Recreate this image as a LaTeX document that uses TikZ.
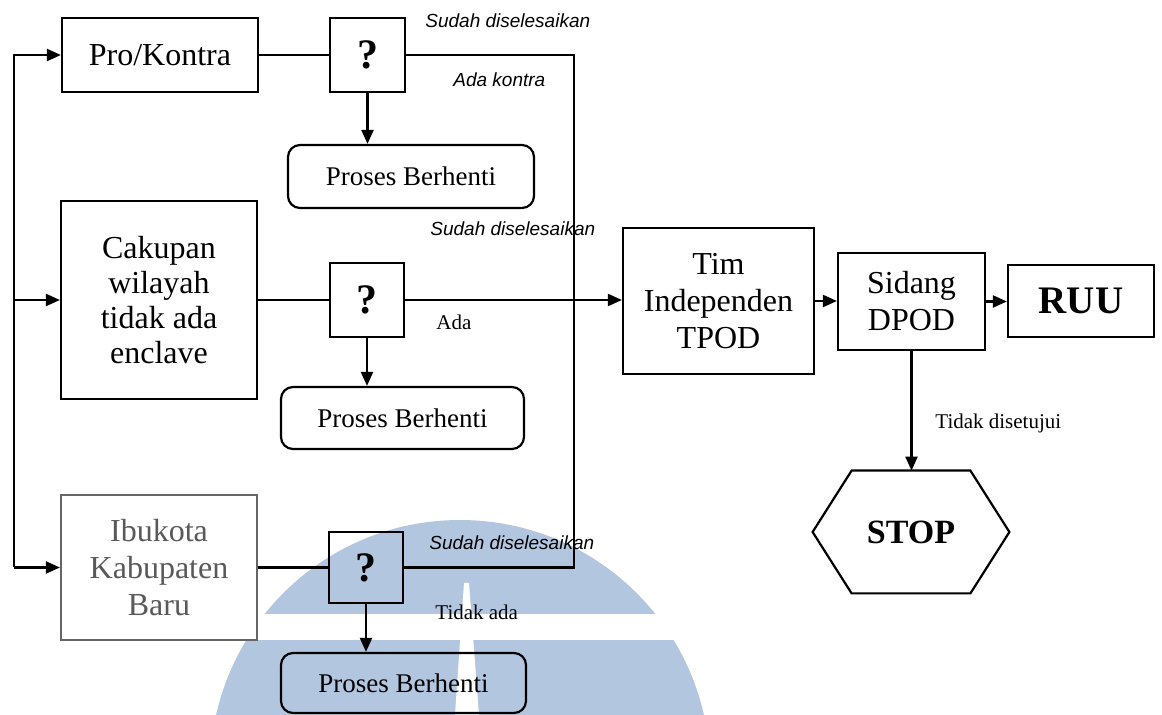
\documentclass[tikz,border=0pt]{standalone}
\usepackage{fontspec}
\setmainfont{Liberation Serif}
\newfontfamily\labelsans{Liberation Sans}
\usetikzlibrary{arrows.meta}
\definecolor{wmblue}{RGB}{178,198,224}
\begin{document}
\begin{tikzpicture}[x=0.5pt,y=-0.5pt,
  box/.style={draw, line width=1.1pt, inner sep=0pt, align=center,
    font=\fontsize{16}{18.5}\selectfont},
  qbox/.style={draw, line width=1.1pt, inner sep=0pt, minimum width=37pt,
    minimum height=37pt, font=\fontsize{21}{24}\selectfont\bfseries},
  pbox/.style={draw, line width=1.1pt, rounded corners=6pt, inner sep=0pt,
    font=\fontsize{13.5}{16}\selectfont},
  link/.style={line width=1.1pt},
  arr/.style={link, -{Triangle[length=7pt,width=6pt]}},
  note/.style={font=\labelsans\itshape\fontsize{9.5}{11}\selectfont, anchor=west, inner sep=0pt},
  smalllabel/.style={font=\fontsize{10.5}{12}\selectfont, anchor=west, inner sep=0pt}]
\useasboundingbox (0,0) rectangle (1162,715);
\fill[white] (0,0) rectangle (1162,715);
% watermark
\begin{scope}
\clip (0,0) rectangle (1162,715);
\fill[wmblue] (460,770) circle[radius=250];
\fill[white] (0,614) rectangle (1162,640);
\fill[white] (464,583) -- (469,583) -- (479,715) -- (455,715) -- cycle;
\end{scope}
% nodes
\node[box, minimum width=98pt, minimum height=37pt] (pk) at (160,55) {Pro/Kontra};
\node[qbox, minimum width=37.5pt] (q1) at (367.5,55) {?};
\node[pbox, minimum width=123pt, minimum height=31.5pt] (pb1) at (411,176.5) {Proses Berhenti};
\node[box, minimum width=98pt, minimum height=99pt, font=\fontsize{16}{17.5}\selectfont] (cak) at (159,300) {Cakupan\\wilayah\\tidak ada\\enclave};
\node[qbox] (q2) at (367,300) {?};
\node[pbox, minimum width=121.5pt, minimum height=31pt] (pb2) at (402.5,418) {Proses Berhenti};
\node[box, draw=black!60, text=black!65, minimum width=98pt, minimum height=72.5pt] (ibu) at (159,567.5) {Ibukota\\Kabupaten\\Baru};
\node[qbox, minimum height=35.5pt] (q3) at (366,567.5) {?};
\node[pbox, minimum width=122.5pt, minimum height=30pt] (pb3) at (403.5,683) {Proses Berhenti};
\node[box, minimum width=95.5pt, minimum height=73pt] (tim) at (718.5,301) {Tim\\Independen\\TPOD};
\node[box, minimum width=73.5pt, minimum height=48.5pt] (sid) at (911.5,301.5) {Sidang\\DPOD};
\node[box, minimum width=73pt, minimum height=36pt, font=\fontsize{19.5}{22}\selectfont\bfseries] (ruu) at (1081,301) {RUU};
\node[minimum width=98pt, minimum height=61pt, inner sep=0pt, font=\fontsize{17}{20}\selectfont\bfseries] (stop) at (911,532) {STOP};
\draw[link] (stop.west) -- ([xshift=19.5pt]stop.north west) -- ([xshift=-19.5pt]stop.north east)
  -- (stop.east) -- ([xshift=-19.5pt]stop.south east) -- ([xshift=19.5pt]stop.south west) -- cycle;
% labels
\node[note] (l1) at (425,21) {Sudah diselesaikan};
\node[note] (l2) at (453,80) {Ada kontra};
\node[note] (l3) at (430,229) {Sudah diselesaikan};
\node[smalllabel] (l4) at (436,322) {Ada};
\node[note] (l5) at (429,543) {Sudah diselesaikan};
\node[smalllabel] (l6) at (435,612) {Tidak ada};
\node[smalllabel] (l7) at (935,423) {Tidak disetujui};
% left bracket
\coordinate (L1) at (14,55);
\coordinate (L3) at (14,567.5);
\draw[arr] (L3) -- (L1) -- (pk.west);
\draw[arr] (L1 |- cak.west) -- (cak.west);
\draw[arr] (L3) -- (ibu.west);
% box to question
\draw[link] (pk.east) -- (pk.east -| q1.west);
\draw[link] (cak.east) -- (cak.east -| q2.west);
\draw[link] (ibu.east) -- (ibu.east -| q3.west);
% question to stop process
\draw[arr] (q1.south) -- (q1.south |- pb1.north);
\draw[arr] (q2.south) -- (q2.south |- pb2.north);
\draw[arr] (q3.south) -- (q3.south |- pb3.north);
% right bracket
\coordinate (R1) at (574,55);
\draw[link] (q1.east) -- (R1) -- (R1 |- q3.east) -- (q3.east);
% main flow
\draw[arr] (q2.east) -- (q2.east -| tim.west);
\draw[arr] (tim.east) -- (tim.east -| sid.west);
\draw[arr] (sid.east) -- (sid.east -| ruu.west);
\draw[arr] (sid.south) -- (sid.south |- stop.north);
\end{tikzpicture}
\end{document}
